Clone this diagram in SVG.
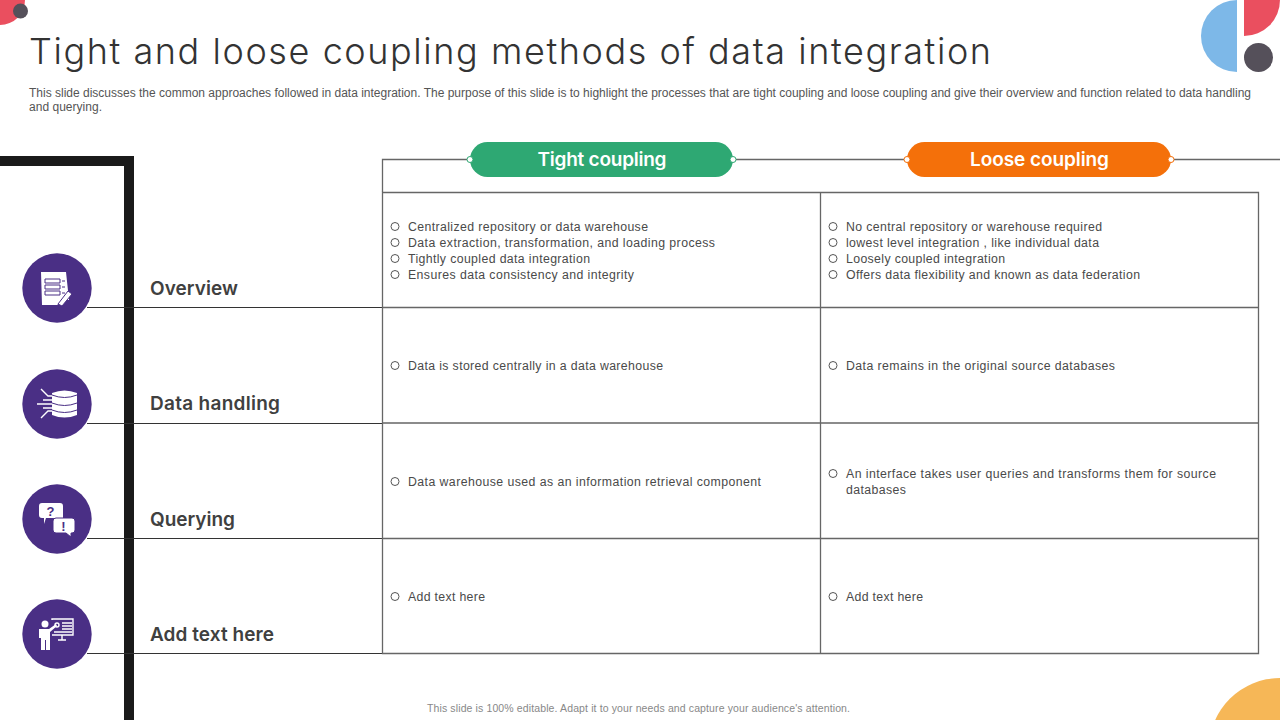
<svg xmlns="http://www.w3.org/2000/svg" width="1280" height="720" viewBox="0 0 1280 720">
<style>
.title{font-family:"Inter","Lato",sans-serif;font-size:36px;font-weight:300;fill:#333;font-variant-ligatures:none}
.sub{font-family:"Liberation Sans",Arial,sans-serif;font-size:12px;fill:#555}
.body{font-family:"Liberation Sans",Arial,sans-serif;font-size:12.3px;fill:#4a4a4a}
.lab{font-family:"Inter","Lato",sans-serif;font-size:19px;font-weight:600;fill:#404040}
.pilltext{font-family:"Inter","Lato",sans-serif;font-size:19px;font-weight:600;fill:#fff;text-anchor:middle}
.ln{stroke:#666;stroke-width:1.3;fill:none}
.row{stroke:#333;stroke-width:1.1;fill:none}
.bul{fill:none;stroke:#555;stroke-width:1}
.dot{fill:#fff;stroke-width:1}
.ic{fill:#fff}
.icl{stroke:#fff;stroke-width:1.4;fill:none}
.icp{stroke:#4a2f85;stroke-width:1;fill:none}
.disc{fill:#4a2f85}
</style>
<rect width="1280" height="720" fill="#fff"/>
<g id="decor">
<circle cx="0" cy="0" r="25" fill="#ea4f5f"/>
<circle cx="20.500" cy="11" r="7.500" fill="#55505a"/>
<path d="M1237 0A36 36 0 0 0 1237 72Z" fill="#7db8e8"/>
<path d="M1244 0V36A36 36 0 0 0 1280 0Z" fill="#ea4f5f"/>
<circle cx="1258.500" cy="57.500" r="14.500" fill="#55505a"/>
<circle cx="1280" cy="749" r="71" fill="#f6b757"/>
</g>
<text class="title" x="29" y="64" textLength="962" lengthAdjust="spacing">Tight and loose coupling methods of data integration</text>
<text class="sub" x="29" y="96.500" textLength="1222" lengthAdjust="spacing">This slide discusses the common approaches followed in data integration. The purpose of this slide is to highlight the processes that are tight coupling and loose coupling and give their overview and function related to data handling</text>
<text class="sub" x="29" y="110.500" textLength="73" lengthAdjust="spacing">and querying.</text>
<path id="frame" d="M0 161H129V720" fill="none" stroke="#1a1a1a" stroke-width="10"/>
<g id="connectors">
<path class="ln" d="M382.500 192V159.500H470M733 159.500H907M1171 159.500H1280"/>
<path class="row" d="M87 307.500H382M87 423.500H382M87 538.500H382M87 653.500H382"/>
</g>
<g id="table">
<path class="ln" d="M382.500 192.500H1258.500V653.500H382.500ZM820.500 192.500V653.500M382.500 307.500H1258.500M382.500 423H1258.500M382.500 538.500H1258.500"/>
</g>
<g id="pill-tight">
<rect x="470" y="142" width="263" height="35" rx="17.500" fill="#2ea873"/>
<circle class="dot" cx="470" cy="159.500" r="3" stroke="#2ea873"/>
<circle class="dot" cx="733" cy="159.500" r="3" stroke="#2ea873"/>
<text class="pilltext" x="602" y="166" textLength="129" lengthAdjust="spacing">Tight coupling</text>
</g>
<g id="pill-loose">
<rect x="907" y="142" width="264" height="35" rx="17.500" fill="#f4700a"/>
<circle class="dot" cx="907" cy="159.500" r="3" stroke="#f4700a"/>
<circle class="dot" cx="1171" cy="159.500" r="3" stroke="#f4700a"/>
<text class="pilltext" x="1039.500" y="166" textLength="139" lengthAdjust="spacing">Loose coupling</text>
</g>
<g id="node-overview">
<circle class="disc" cx="57" cy="288" r="34.700"/>
<path class="ic" d="M41 272H66L69 300H63L57 305H42Z"/>
<path class="icp" d="M45 279H60V283H45ZM45 285H60V289H45ZM45 291H60V295H45ZM62 281H65M62 287H65M62 293H65"/>
<path d="M58 304L68 291L72 294L62 306Z" fill="#fff" stroke="#4a2f85" stroke-width="1"/>
<text class="lab" x="150" y="295" textLength="88" lengthAdjust="spacing">Overview</text>
</g>
<g id="node-data-handling">
<circle class="disc" cx="57" cy="404" r="34.700"/>
<path class="ic" d="M52 393Q64.500 388 77 393V415Q64.500 420 52 415Z"/>
<path class="icp" d="M52 395Q64.500 400 77 395M52 403Q64.500 408 77 403M52 410Q64.500 415 77 410"/>
<path class="icl" stroke-width="1" d="M41 389L48 396H52M37 404H52M43 400H52M43 408H52M41 418L48 411H52"/>
<text class="lab" x="150" y="410" textLength="130" lengthAdjust="spacing">Data handling</text>
</g>
<g id="node-querying">
<circle class="disc" cx="57" cy="519" r="34.700"/>
<path class="ic" d="M42 503H60Q63 503 63 506V518H62H46L44 524V518H42Q39 518 39 515V506Q39 503 42 503Z"/>
<path class="ic" d="M56 518H72Q75 518 75 521V530Q75 533 72 533H71L71 537L66 533H56Q53 533 53 530V521Q53 518 56 518Z" stroke="#4a2f85" stroke-width="1"/>
<text x="50.500" y="516" font-family="Liberation Sans,sans-serif" font-size="13" font-weight="700" fill="#4a2f85" text-anchor="middle">?</text>
<text x="63.500" y="531" font-family="Liberation Sans,sans-serif" font-size="13" font-weight="700" fill="#4a2f85" text-anchor="middle">!</text>
<text class="lab" x="150" y="526" textLength="85" lengthAdjust="spacing">Querying</text>
</g>
<g id="node-add">
<circle class="disc" cx="57" cy="634" r="34.700"/>
<circle class="ic" cx="45" cy="624" r="3.500"/>
<path class="ic" d="M39 629H49L56 624L57 626L50 632V650H46V640H45V650H41V638H39Z"/>
<path class="icl" d="M52 620V619H73V635H52"/>
<path class="icl" d="M62 623H72M62 626H72M62 629H72M54 632H72M62 635V640M58 640H66"/>
<circle class="icl" cx="57" cy="625" r="2"/>
<text class="lab" x="150" y="641" textLength="124" lengthAdjust="spacing">Add text here</text>
</g>
<g id="col-tight">
<circle class="bul" cx="395" cy="226.500" r="4"/><text class="body" x="408" y="230.500" textLength="240" lengthAdjust="spacing">Centralized repository or data warehouse</text>
<circle class="bul" cx="395" cy="242.500" r="4"/><text class="body" x="408" y="246.500" textLength="307" lengthAdjust="spacing">Data extraction, transformation, and loading process</text>
<circle class="bul" cx="395" cy="258.500" r="4"/><text class="body" x="408" y="262.500" textLength="182" lengthAdjust="spacing">Tightly coupled data integration</text>
<circle class="bul" cx="395" cy="274.500" r="4"/><text class="body" x="408" y="278.500" textLength="226" lengthAdjust="spacing">Ensures data consistency and integrity</text>
<circle class="bul" cx="395" cy="365.500" r="4"/><text class="body" x="408" y="369.500" textLength="255" lengthAdjust="spacing">Data is stored centrally in a data warehouse</text>
<circle class="bul" cx="395" cy="481.500" r="4"/><text class="body" x="408" y="485.500" textLength="353" lengthAdjust="spacing">Data warehouse used as an information retrieval component</text>
<circle class="bul" cx="395" cy="596.500" r="4"/><text class="body" x="408" y="600.500" textLength="77" lengthAdjust="spacing">Add text here</text>
</g>
<g id="col-loose">
<circle class="bul" cx="833" cy="226.500" r="4"/><text class="body" x="846" y="230.500" textLength="256" lengthAdjust="spacing">No central repository or warehouse required</text>
<circle class="bul" cx="833" cy="242.500" r="4"/><text class="body" x="846" y="246.500" textLength="253" lengthAdjust="spacing">lowest level integration , like individual data</text>
<circle class="bul" cx="833" cy="258.500" r="4"/><text class="body" x="846" y="262.500" textLength="159" lengthAdjust="spacing">Loosely coupled integration</text>
<circle class="bul" cx="833" cy="274.500" r="4"/><text class="body" x="846" y="278.500" textLength="294" lengthAdjust="spacing">Offers data flexibility and known as data federation</text>
<circle class="bul" cx="833" cy="365.500" r="4"/><text class="body" x="846" y="369.500" textLength="269" lengthAdjust="spacing">Data remains in the original source databases</text>
<circle class="bul" cx="833" cy="473.500" r="4"/><text class="body" x="846" y="477.500" textLength="370" lengthAdjust="spacing">An interface takes user queries and transforms them for source</text>
<text class="body" x="846" y="493.500" textLength="60" lengthAdjust="spacing">databases</text>
<circle class="bul" cx="833" cy="596.500" r="4"/><text class="body" x="846" y="600.500" textLength="77" lengthAdjust="spacing">Add text here</text>
</g>
<text x="427" y="711.500" font-family="Liberation Sans,Arial,sans-serif" font-size="10.500" fill="#888" textLength="423" lengthAdjust="spacing">This slide is 100% editable. Adapt it to your needs and capture your audience's attention.</text>
</svg>
